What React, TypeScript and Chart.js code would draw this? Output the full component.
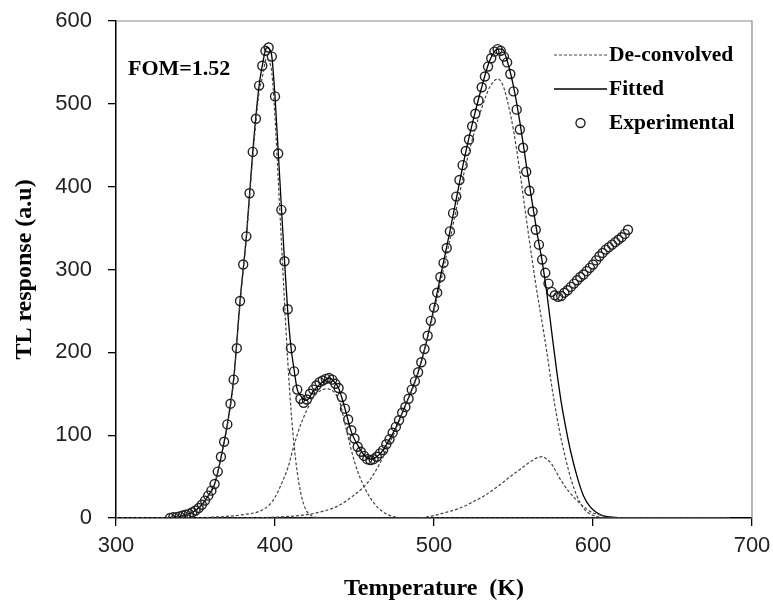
import React, { useEffect, useRef } from "react";
import { Chart, registerables } from "chart.js";

Chart.register(...registerables);

// Experimental TL glow curve (circles)
const expT = [334,336,338,340,342,344,346,348,350,352,354,356,358,360,362,364,366,368,370,372,374,376,378,380,382,384,386,388,390,392,394,396,398,400,402,404,406,408,410,412,414,416,418,420,422,424,426,428,430,432,434,436,438,440,442,444,446,448,450,452,454,456,458,460,462,464,466,468,470,472,474,476,478,480,482,484,486,488,490,492,494,496,498,500,502,504,506,508,510,512,514,516,518,520,522,524,526,528,530,532,534,536,538,540,542,544,546,548,550,552,554,556,558,560,562,564,566,568,570,572,574,576,578,580,582,584,586,588,590,592,594,596,598,600,602,604,606,608,610,612,614,616,618,620,622];
const expY = [0,1,1,2,3,4,5,7,9,12,16,21,27,33,41,56,74,92,113,138,167,205,262,306,340,392,442,482,522,546,564,568,557,509,440,372,310,252,205,177,155,144,139,143,150,155,160,164,166,168,169,167,162,157,146,132,119,106,96,86,80,75,71,70,71,74,78,82,89,95,103,110,118,127,134,144,155,165,176,188,204,220,238,254,272,291,308,326,346,368,388,408,426,443,457,473,488,504,520,533,545,555,563,566,564,557,550,536,515,493,469,447,418,395,370,348,330,312,296,283,273,269,267,268,272,275,279,283,287,291,294,298,302,306,311,316,320,324,327,330,333,336,339,343,348];

// Fitted curve (solid)
const fitT = [300,330,336,340,345,350,354,358,362,366,370,374,378,382,386,390,392,394,395,396,398,400,402,404,406,408,410,412,414,416,418,420,424,428,432,434,436,440,444,448,452,456,460,464,468,472,476,480,485,490,495,500,505,510,515,520,525,530,535,540,543,546,550,554,558,562,565,568,571,574,577,580,583,586,590,594,598,602,606,612,620,686];
const fitY = [0,0,1,2,4,9,16,27,41,73,113,168,262,340,442,522,546,565,568,567,557,509,443,376,310,250,207,179,155,148,143,142,153,161,167,169,167,157,132,104,88,76,71,74,82,95,109,127,150,176,211,254,300,346,395,442,483,520,552,566,566,552,521,478,427,378,342,310,271,225,180,140,108,80,50,27,14,7,3,1,0,0];

// De-convolved peaks (dashed)
const p1T = [300,330,340,345,350,354,358,362,366,370,374,378,382,386,390,392,394,395,396,398,400,402,404,406,408,410,412,414,416,418,420,422,425,430,686];
const p1Y = [0,0,2,4,8,15,26,40,72,111,165,258,338,436,514,532,552,555,552,538,484,410,335,260,190,132,88,55,32,17,8,4,1,0,0];

const p2T = [300,350,360,370,380,390,396,400,404,408,412,416,420,424,428,432,435,438,441,444,448,452,456,460,465,470,476,482,686];
const p2Y = [0,0,1,2,4,8,15,25,41,60,88,112,130,145,153,156,155,150,138,114,82,56,38,24,12,5,1,0,0];

const p3T = [300,380,400,420,430,440,450,456,460,466,470,476,480,490,500,510,520,526,530,535,540,543,546,550,554,558,562,565,568,571,574,577,580,583,586,590,594,598,602,608,686];
const p3Y = [0,0,1,4,8,15,28,38,47,66,82,107,126,175,250,336,426,470,495,520,530,524,505,468,418,362,308,270,236,200,160,125,95,70,48,26,12,5,2,0,0];

const p4T = [300,490,500,506,515,520,525,531,540,548,555,560,564,568,571,574,577,580,584,588,592,596,600,604,608,614,686];
const p4Y = [0,0,3,6,11,15,20,26,38,50,60,67,72,74,71,65,55,45,34,25,17,11,6,4,2,0,0];

const xTicks = [300, 400, 500, 600, 700];
const yTicks = [0, 100, 200, 300, 400, 500, 600];

const legendLabels = ["De-convolved", "Fitted", "Experimental"];
const fomLabel = "FOM=1.52";

const toPts = (t: number[], y: number[]) => t.map((v, i) => ({ x: v, y: y[i] }));

const SERIF = "'Liberation Serif', 'Times New Roman', serif";
const SANS = "'Liberation Sans', Arial, sans-serif";

const overlayPlugin = {
  id: "overlay",
  afterDraw(chart: any) {
    const { ctx, chartArea } = chart;
    const { left, top, right, bottom } = chartArea;
    ctx.save();
    // top & right frame
    ctx.strokeStyle = "#8a8a8a";
    ctx.lineWidth = 1.2;
    ctx.beginPath();
    ctx.moveTo(left, top);
    ctx.lineTo(right, top);
    ctx.lineTo(right, bottom);
    ctx.stroke();

    // FOM label
    ctx.fillStyle = "#000";
    ctx.font = `bold 22px ${SERIF}`;
    ctx.textBaseline = "middle";
    ctx.textAlign = "left";
    ctx.fillText(fomLabel, left + 12, top + 48);

    // legend
    const lx0 = right - 198;
    const lx1 = right - 145;
    const tx = right - 143;
    const rows = [top + 34, top + 68, top + 102];
    ctx.font = `bold 21.5px ${SERIF}`;
    // dashed
    ctx.strokeStyle = "#444";
    ctx.lineWidth = 1.2;
    ctx.setLineDash([3, 2]);
    ctx.beginPath();
    ctx.moveTo(lx0, rows[0]);
    ctx.lineTo(lx1, rows[0]);
    ctx.stroke();
    ctx.setLineDash([]);
    // solid
    ctx.strokeStyle = "#000";
    ctx.lineWidth = 1.3;
    ctx.beginPath();
    ctx.moveTo(lx0, rows[1]);
    ctx.lineTo(lx1, rows[1]);
    ctx.stroke();
    // circle
    ctx.strokeStyle = "#222";
    ctx.lineWidth = 1.4;
    ctx.beginPath();
    ctx.arc((lx0 + lx1) / 2, rows[2], 4.5, 0, Math.PI * 2);
    ctx.stroke();
    ctx.fillStyle = "#000";
    legendLabels.forEach((lab, i) => ctx.fillText(lab, tx, rows[i]));
    ctx.restore();
  },
};

export default function App() {
  const ref = useRef<HTMLCanvasElement | null>(null);
  useEffect(() => {
    if (!ref.current) return;
    const lineBase = {
      showLine: true,
      pointRadius: 0,
      pointHoverRadius: 0,
      cubicInterpolationMode: "monotone" as const,
      fill: false,
    };
    const dashed = { ...lineBase, borderColor: "#444", borderWidth: 1.2, borderDash: [3, 2] };
    const chart = new Chart(ref.current, {
      type: "scatter",
      data: {
        datasets: [
          { ...dashed, label: "p1", data: toPts(p1T, p1Y) },
          { ...dashed, label: "p2", data: toPts(p2T, p2Y) },
          { ...dashed, label: "p3", data: toPts(p3T, p3Y) },
          { ...dashed, label: "p4", data: toPts(p4T, p4Y) },
          { ...lineBase, label: "Fitted", data: toPts(fitT, fitY), borderColor: "#000", borderWidth: 1.3 },
          {
            label: "Experimental",
            data: toPts(expT, expY),
            showLine: false,
            pointStyle: "circle",
            pointRadius: 4.5,
            pointBorderWidth: 1.4,
            pointBorderColor: "#222",
            pointBackgroundColor: "rgba(0,0,0,0)",
            borderColor: "#222",
            backgroundColor: "rgba(0,0,0,0)",
          },
        ],
      },
      options: {
        animation: false,
        responsive: false,
        devicePixelRatio: 1,
        layout: { padding: { left: 0, right: 21, top: 21, bottom: 0 } },
        plugins: { legend: { display: false }, tooltip: { enabled: false } },
        scales: {
          x: {
            type: "linear",
            min: 300,
            max: 700,
            afterBuildTicks: (s: any) => { s.ticks = xTicks.map((v) => ({ value: v })); },
            afterFit: (s: any) => { s.height = 85; s.paddingLeft = 0; s.paddingRight = 0; },
            ticks: { font: { family: SANS, size: 22 }, color: "#222", padding: 7 },
            grid: { display: true, drawOnChartArea: false, drawTicks: true, tickLength: 8, color: "#000", lineWidth: 1.3 },
            border: { color: "#000", width: 1.5 },
            title: {
              display: true,
              text: "Temperature  (K)",
              color: "#000",
              font: { family: SERIF, size: 24, weight: "bold", lineHeight: 1.2 },
              padding: { top: 0, bottom: 0 },
            },
          },
          y: {
            type: "linear",
            min: 0,
            max: 600,
            afterBuildTicks: (s: any) => { s.ticks = yTicks.map((v) => ({ value: v })); },
            afterFit: (s: any) => { s.width = 116; s.paddingTop = 0; s.paddingBottom = 0; },
            ticks: { font: { family: SANS, size: 22 }, color: "#222", padding: 16 },
            grid: { display: true, drawOnChartArea: false, drawTicks: true, tickLength: 8, color: "#000", lineWidth: 1.3 },
            border: { color: "#000", width: 1.5 },
            title: {
              display: true,
              text: "TL response (a.u)",
              color: "#000",
              font: { family: SERIF, size: 24, weight: "bold", lineHeight: 1.2 },
              padding: { top: 10, bottom: 0 },
            },
          },
        },
      },
      plugins: [overlayPlugin],
    } as any);
    return () => chart.destroy();
  }, []);
  return (
    <div style={{ position: "absolute", left: 0, top: 0, width: 773, height: 603, background: "#fff" }}>
      <canvas ref={ref} width={773} height={603} style={{ width: 773, height: 603, display: "block" }} />
    </div>
  );
}
